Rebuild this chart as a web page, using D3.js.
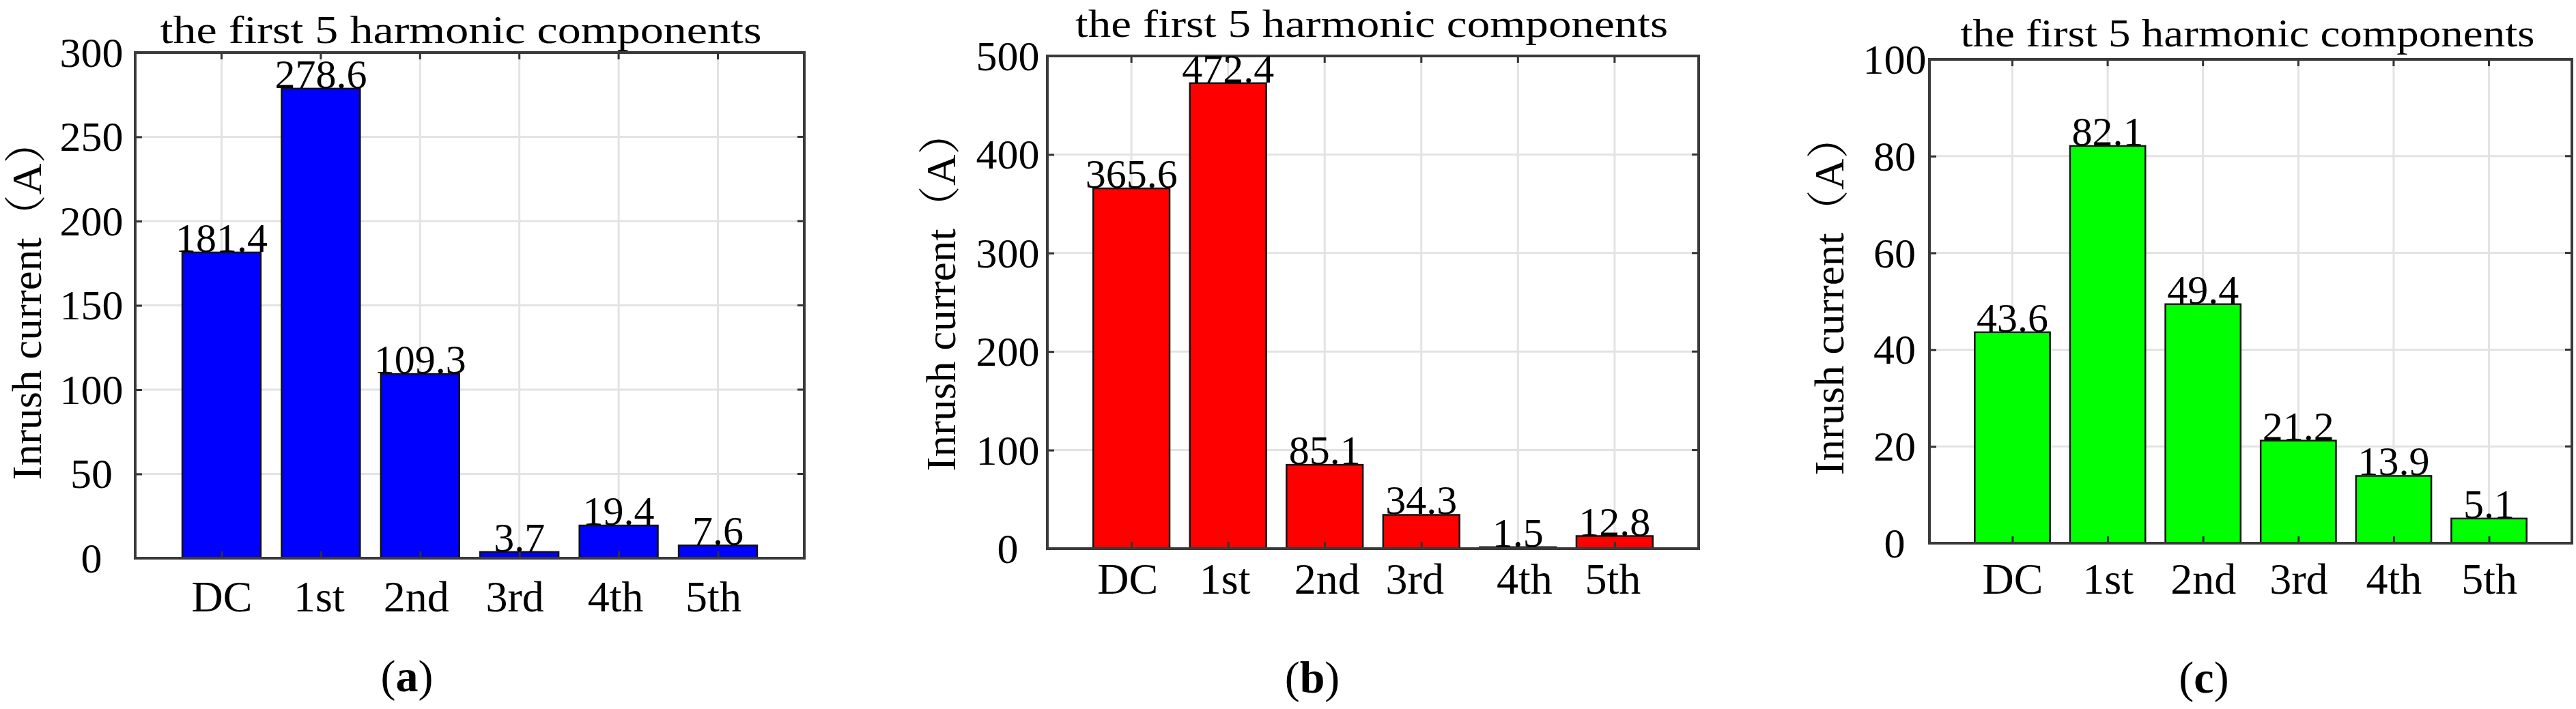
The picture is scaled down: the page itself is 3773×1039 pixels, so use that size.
<!DOCTYPE html>
<html>
<head>
<meta charset="utf-8">
<script src="https://cdn.jsdelivr.net/npm/d3@7/dist/d3.min.js"></script>
<style>
  html, body { margin: 0; padding: 0; background: #fff; }
  svg { display: block; }
</style>
</head>
<body>
<svg id="chart" width="3773" height="1039"></svg>
<script>
// ---------------- data ----------------
const categories = ["DC", "1st", "2nd", "3rd", "4th", "5th"];
const valuesA = [181.4, 278.6, 109.3, 3.7, 19.4, 7.6];
const valuesB = [365.6, 472.4, 85.1, 34.3, 1.5, 12.8];
const valuesC = [43.6, 82.1, 49.4, 21.2, 13.9, 5.1];
const ticksA = [0, 50, 100, 150, 200, 250, 300];
const ticksB = [0, 100, 200, 300, 400, 500];
const ticksC = [0, 20, 40, 60, 80, 100];
const titleText = "the first 5 harmonic components";
const yLabelText = "Inrush current（A）";
const captionLetters = ["a", "b", "c"];

// ---------------- layout (styles / positions) ----------------
const panels = [
  { values: valuesA, ticks: ticksA, color: "#0000FF", cap: captionLetters[0],
    l: 198, r: 1178, t: 77, b: 818, tickX: 134, yLabX: 60, yLabY: 440,
    titleX: 675, titleY: 63, titleW: 881, xLabY: 896, capX: 596, capY: 1013,
    xLabDx: [0, -3, -6, -7, -5, -7] },
  { values: valuesB, ticks: ticksB, color: "#FF0000", cap: captionLetters[1],
    l: 1534, r: 2488, t: 82, b: 804, tickX: 1476, yLabX: 1399, yLabY: 427,
    titleX: 2009, titleY: 54, titleW: 868, xLabY: 870, capX: 1922, capY: 1015,
    xLabDx: [-6, -5, 3, -10, 9, -3] },
  { values: valuesC, ticks: ticksC, color: "#00FF00", cap: captionLetters[2],
    l: 2826, r: 3767, t: 87, b: 796, tickX: 2775, yLabX: 2700, yLabY: 433,
    titleX: 3292, titleY: 68, titleW: 841, xLabY: 870, capX: 3228, capY: 1015,
    xLabDx: [0, 0, 0, 0, 0, 0] }
];

const FONT = "'Liberation Serif', 'Times New Roman', 'Noto Serif CJK SC', 'Noto Sans CJK SC', serif";
const svg = d3.select("#chart");

panels.forEach(p => {
  const g = svg.append("g");
  const x = d3.scaleLinear().domain([0.13, 6.87]).range([p.l, p.r]);
  const yMax = p.ticks[p.ticks.length - 1];
  const y = d3.scaleLinear().domain([0, yMax]).range([p.b, p.t]);
  const pos = categories.map((c, i) => i + 1);
  const barW = 0.79;

  // grid
  g.append("g").selectAll("line.hg").data(p.ticks.slice(1, -1)).join("line")
    .attr("x1", p.l).attr("x2", p.r)
    .attr("y1", d => y(d)).attr("y2", d => y(d))
    .attr("stroke", "#e3e3e3").attr("stroke-width", 3);
  g.append("g").selectAll("line.vg").data(pos).join("line")
    .attr("x1", d => x(d)).attr("x2", d => x(d))
    .attr("y1", p.t).attr("y2", p.b)
    .attr("stroke", "#e3e3e3").attr("stroke-width", 3);

  // bars
  g.append("g").selectAll("rect").data(p.values).join("rect")
    .attr("x", (d, i) => x(pos[i] - barW / 2))
    .attr("width", (d, i) => x(pos[i] + barW / 2) - x(pos[i] - barW / 2))
    .attr("y", d => y(d))
    .attr("height", d => y(0) - y(d))
    .attr("fill", p.color)
    .attr("stroke", "#111").attr("stroke-width", 2.5);

  // y axis via d3 (labels + inner ticks)
  const yAxis = d3.axisLeft(y).tickValues(p.ticks).tickSize(-10).tickPadding(0)
    .tickFormat(d3.format("d"));
  const ya = g.append("g").attr("transform", `translate(${p.l},0)`).call(yAxis);
  ya.select(".domain").remove();
  ya.selectAll(".tick line").attr("stroke", "#333").attr("stroke-width", 3);
  ya.selectAll(".tick text")
    .attr("x", p.tickX - p.l).attr("dy", "0.33em")
    .attr("text-anchor", "middle")
    .attr("font-family", FONT).attr("font-size", 62).attr("fill", "#000");

  // right ticks
  g.append("g").selectAll("line").data(p.ticks).join("line")
    .attr("x1", p.r).attr("x2", p.r - 10)
    .attr("y1", d => y(d)).attr("y2", d => y(d))
    .attr("stroke", "#333").attr("stroke-width", 3);

  // x axis via d3
  const xAxis = d3.axisBottom(x).tickValues(pos).tickSize(-10).tickPadding(0)
    .tickFormat((d, i) => categories[i]);
  const xa = g.append("g").attr("transform", `translate(0,${p.b})`).call(xAxis);
  xa.select(".domain").remove();
  xa.selectAll(".tick line").attr("stroke", "#333").attr("stroke-width", 3);
  xa.selectAll(".tick text")
    .attr("y", p.xLabY - p.b).attr("dy", 0)
    .attr("x", (d, i) => p.xLabDx[i])
    .attr("text-anchor", "middle")
    .attr("font-family", FONT).attr("font-size", 64).attr("fill", "#000");

  // top ticks
  g.append("g").selectAll("line").data(pos).join("line")
    .attr("x1", d => x(d)).attr("x2", d => x(d))
    .attr("y1", p.t).attr("y2", p.t + 10)
    .attr("stroke", "#333").attr("stroke-width", 3);

  // box
  g.append("rect")
    .attr("x", p.l).attr("y", p.t)
    .attr("width", p.r - p.l).attr("height", p.b - p.t)
    .attr("fill", "none").attr("stroke", "#3a3a3a").attr("stroke-width", 4);

  // value labels
  g.append("g").selectAll("text").data(p.values).join("text")
    .attr("x", (d, i) => x(pos[i]))
    .attr("y", d => y(d) - 1)
    .attr("text-anchor", "middle")
    .attr("font-family", FONT).attr("font-size", 60).attr("fill", "#000")
    .text(d => d3.format(".1f")(d));

  // title
  g.append("text")
    .attr("x", p.titleX).attr("y", p.titleY)
    .attr("text-anchor", "middle")
    .attr("font-family", FONT).attr("font-size", 58)
    .attr("textLength", p.titleW).attr("lengthAdjust", "spacingAndGlyphs")
    .text(titleText);

  // y label
  g.append("text")
    .attr("transform", `translate(${p.yLabX},${p.yLabY}) rotate(-90)`)
    .attr("text-anchor", "middle")
    .attr("font-family", FONT).attr("font-size", 62)
    .attr("textLength", 527).attr("lengthAdjust", "spacingAndGlyphs")
    .text(yLabelText);

  // caption
  const cap = g.append("text")
    .attr("x", p.capX).attr("y", p.capY)
    .attr("text-anchor", "middle")
    .attr("font-family", FONT).attr("font-size", 66);
  cap.append("tspan").text("(");
  cap.append("tspan").attr("font-weight", "bold").text(p.cap);
  cap.append("tspan").text(")");
});
</script>
</body>
</html>
